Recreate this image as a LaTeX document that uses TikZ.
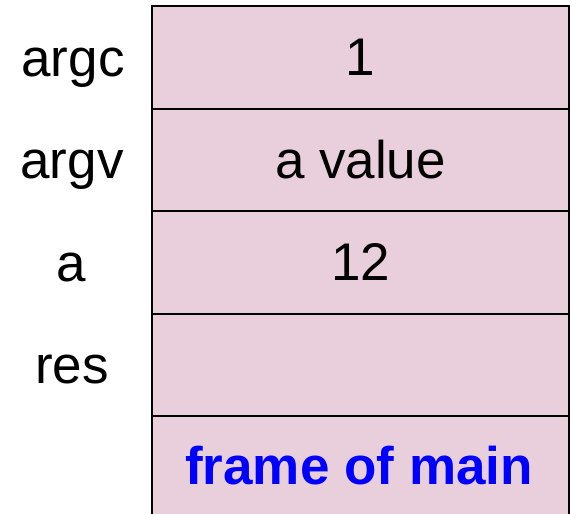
\documentclass[tikz,border=0pt]{standalone}
\usepackage{fontspec}
\setmainfont{Liberation Sans}
\begin{document}
\definecolor{cellpink}{RGB}{233,207,219}
\begin{tikzpicture}[x=1pt,y=-1pt,
  bigtext/.style={font=\fontsize{53}{60}\selectfont},
  cell/.style={draw=black,line width=2pt,fill=cellpink,rectangle,
    minimum width=417pt,minimum height=102.5pt,anchor=north west,
    inner sep=0pt,bigtext},
  varname/.style={inner sep=0pt,anchor=base,bigtext},
  frametitle/.style={inner sep=0pt,text=blue,
    font=\fontsize{53}{60}\selectfont\bfseries}]
  \useasboundingbox (0,0) rectangle (571,514);
  \clip (0,0) rectangle (571,514);
  % stack cells
  \node[cell] (c1) at (151,5) {1};
  \node[cell] (c2) at (151,107.5) {a value};
  \node[cell] (c3) at (151,210) {12};
  \node[cell] (c4) at (151,312.5) {};
  \node[cell,minimum height=140pt] (c5) at (151,415) {};
  \node[frametitle] (t5) at (359,466) {frame of main};
  % variable names
  \node[varname] (l1) at (73,76) {argc};
  \node[varname] (l2) at (72,178) {argv};
  \node[varname] (l3) at (71,281) {a};
  \node[varname] (l4) at (72,383) {res};
\end{tikzpicture}
\end{document}
